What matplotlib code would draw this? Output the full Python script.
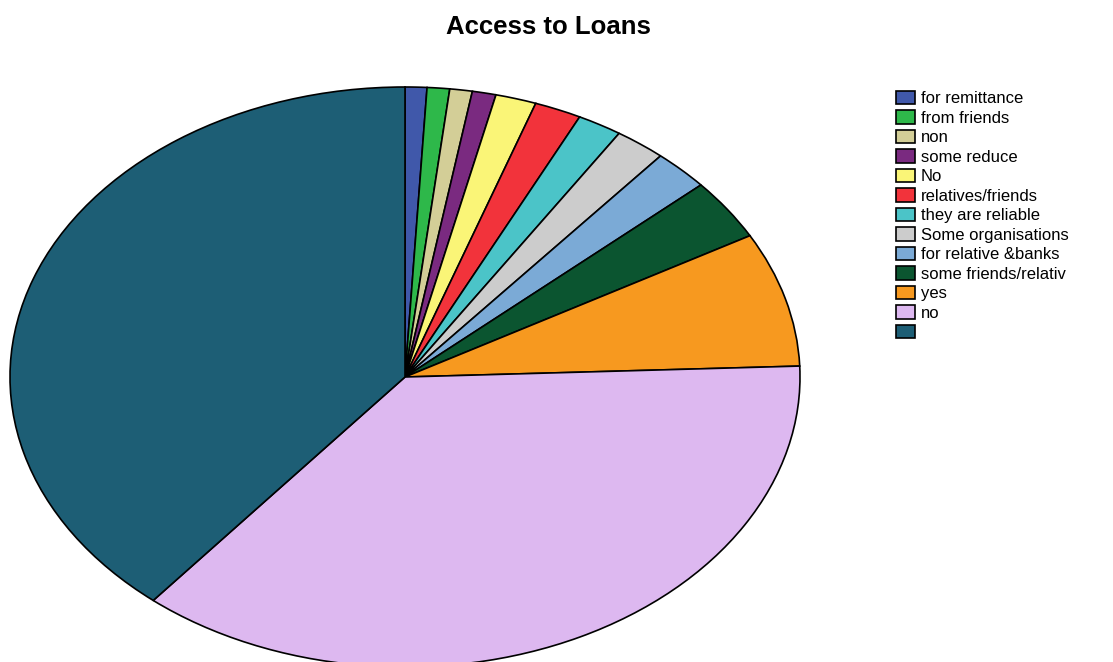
import matplotlib.pyplot as plt
from matplotlib.patches import Patch

plt.rcParams['font.family'] = ['Liberation Sans', 'DejaVu Sans']

labels = ['for remittance', 'from friends', 'non', 'some reduce', 'No',
          'relatives/friends', 'they are reliable', 'Some organisations',
          'for relative &banks', 'some friends/relativ', 'yes', 'no', '']
shares = [0.89, 0.92, 0.92, 0.97, 1.67, 1.92, 1.83, 2.08, 2.28, 3.42, 7.50, 36.6, 39.0]
colors = ['#4058AA', '#2EB84A', '#D3CE97', '#7A2A80', '#FAF577', '#F2333B',
          '#4BC4C8', '#CCCCCC', '#7BAAD6', '#0B5530', '#F7991F', '#DDB8F0', '#1D5E75']

W, H = 1113, 662
fig = plt.figure(figsize=(W/100, H/100), dpi=100)

# stretched pie: x radius 395px, y radius 290px, centre at (405, 377)
ax = fig.add_axes([10/W, (H-667)/H, 790/W, 580/H])
ax.pie(shares, colors=colors, startangle=90, counterclock=False,
       wedgeprops=dict(edgecolor='black', linewidth=1.2))
ax.set_aspect('auto')
ax.set_xlim(-1, 1)
ax.set_ylim(-1, 1)
ax.axis('off')

fig.text(548/W, 1-27/H, 'Access to Loans', ha='center', va='center',
         fontsize=18.5, fontweight='bold')

handles = [Patch(facecolor=c, edgecolor='black', linewidth=1.2) for c in colors]
fig.legend(handles, labels, loc='upper left', bbox_to_anchor=(896/W, 1-91/H),
           frameon=False, fontsize=12, handlelength=1.15, handleheight=0.85,
           handletextpad=0.35, labelspacing=0.245, borderaxespad=0, borderpad=0)

fig.savefig('out.png', dpi=100)
